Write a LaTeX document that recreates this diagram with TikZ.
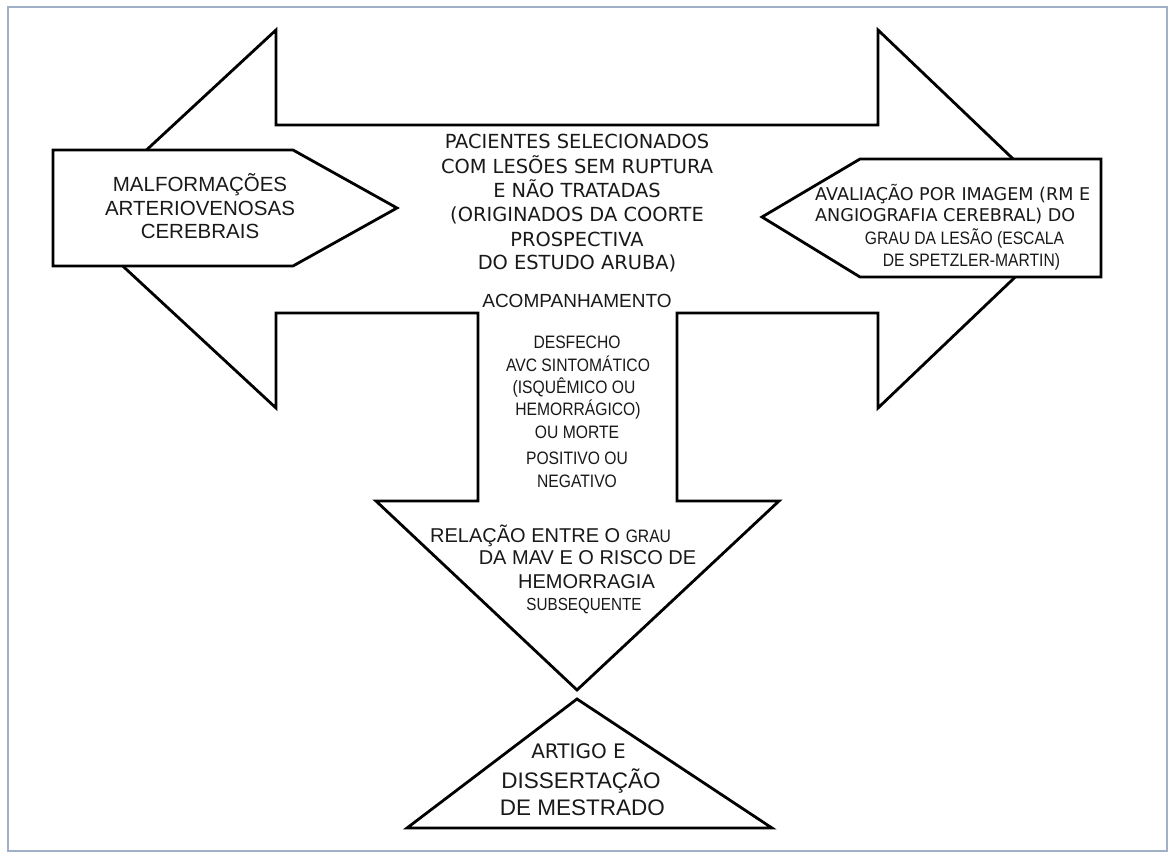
\documentclass[tikz,border=0pt]{standalone}
\usepackage{fontspec}
\newfontfamily\arialf{Liberation Sans}
\newfontfamily\verdf{DejaVu Sans}
\newfontfamily\narrowf[FakeStretch=0.87]{Liberation Sans}
\definecolor{framecol}{RGB}{160,176,198}
\definecolor{inkcol}{RGB}{25,25,25}
\begin{document}
\begin{tikzpicture}[x=1pt,y=-1pt,
  shapeline/.style={draw=black,line width=2.8pt,fill=white,line join=miter},
  txt/.style={inner sep=0pt,anchor=base,text=inkcol},
  ftA/.style={font=\arialf\fontsize{20.5}{24}\selectfont},
  ftV/.style={font=\verdf\fontsize{19.4}{24}\selectfont},
  ftVs/.style={font=\verdf\fontsize{17.6}{21}\selectfont},
  ftN/.style={font=\narrowf\fontsize{18}{22}\selectfont},
  ftR/.style={font=\arialf\fontsize{20}{22}\selectfont}]
\useasboundingbox (0,0) rectangle (1168,853);
\fill[white] (0,0) rectangle (1168,853);
\draw[framecol,line width=1.5pt] (8,7) rectangle (1167,851);

% big three-way arrow
\draw[shapeline] (72,219) -- (276,30) -- (276,125) -- (878,125) -- (878,30)
  -- (1076,219) -- (878,408) -- (878,313) -- (677,313) -- (677,501)
  -- (779,501) -- (577,690) -- (376,501) -- (478,501) -- (478,313)
  -- (276,313) -- (276,408) -- cycle;

% left pentagon
\draw[shapeline] (53,150) -- (293,150) -- (397,208) -- (293,266) -- (53,266) -- cycle;
% right pentagon
\draw[shapeline] (762,217) -- (860,159) -- (1101,159) -- (1101,277) -- (860,277) -- cycle;
% triangle
\draw[shapeline] (577,699) -- (772,828) -- (407,828) -- cycle;

% left box text
\node[txt,ftA] (l1) at (200,192) {MALFORMAÇÕES};
\node[txt,ftA] (l2) at (200,215.5) {ARTERIOVENOSAS};
\node[txt,ftA] (l3) at (200,239) {CEREBRAIS};

% center text
\node[txt,ftV] (c1) at (577,149) {PACIENTES SELECIONADOS};
\node[txt,ftV] (c2) at (577,173.5) {COM LESÕES SEM RUPTURA};
\node[txt,ftV] (c3) at (577,198) {E NÃO TRATADAS};
\node[txt,ftV] (c4) at (577,222) {(ORIGINADOS DA COORTE};
\node[txt,ftV] (c5) at (577,247) {PROSPECTIVA};
\node[txt,ftV] (c6) at (577,270) {DO ESTUDO ARUBA)};

\node[txt,font=\arialf\fontsize{19}{22}\selectfont] (acomp) at (577,308) {ACOMPANHAMENTO};

% down arrow text
\node[txt,ftN] (d1) at (577,348) {DESFECHO};
\node[txt,ftN] (d2) at (578,371) {AVC SINTOMÁTICO};
\node[txt,ftN] (d3) at (574,393) {(ISQUÊMICO OU};
\node[txt,ftN] (d4) at (578,415) {HEMORRÁGICO)};
\node[txt,ftN] (d5) at (577,438) {OU MORTE};
\node[txt,ftN] (d6) at (577,464) {POSITIVO OU};
\node[txt,ftN] (d7) at (577,487) {NEGATIVO};

\node[txt,anchor=base west] (r1) at (430,542) {{\arialf\fontsize{20}{22}\selectfont RELAÇÃO ENTRE O }{\narrowf\fontsize{18}{22}\selectfont GRAU}};
\node[txt,ftR] (r2) at (587.5,564) {DA MAV E O RISCO DE};
\node[txt,ftR] (r3) at (586.5,588) {HEMORRAGIA};
\node[txt,font=\narrowf\fontsize{17.5}{22}\selectfont] (r4) at (584,610) {SUBSEQUENTE};

% right box text
\node[txt,ftVs,anchor=base west] (p1) at (815,201) {AVALIAÇÃO POR IMAGEM (RM E};
\node[txt,ftVs,anchor=base west] (p2) at (815,222) {ANGIOGRAFIA CEREBRAL) DO};
\node[txt,ftN] (p3) at (964.5,245) {GRAU DA LESÃO (ESCALA};
\node[txt,ftN] (p4) at (971.5,267) {DE SPETZLER-MARTIN)};

% triangle text
\node[txt,font=\verdf\fontsize{20}{24}\selectfont] (t1) at (578.5,758) {ARTIGO E};
\node[txt,font=\arialf\fontsize{22.5}{26}\selectfont] (t2) at (581,788) {DISSERTAÇÃO};
\node[txt,font=\arialf\fontsize{22.5}{26}\selectfont] (t3) at (582.5,815) {DE MESTRADO};
\end{tikzpicture}
\end{document}
